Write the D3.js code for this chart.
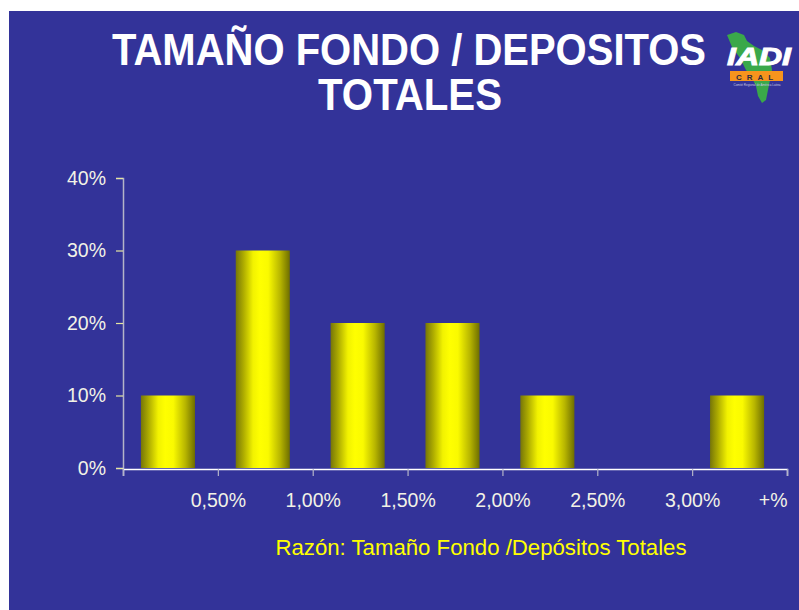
<!DOCTYPE html>
<html>
<head>
<meta charset="utf-8">
<script src="https://cdn.jsdelivr.net/npm/d3@7"></script>
<style>
  html, body { margin: 0; padding: 0; background: #ffffff; }
  svg { display: block; font-family: Arial, "Liberation Sans", sans-serif; }
</style>
</head>
<body>
<div id="chart"></div>
<script>
// Distribución de fondos según razón Tamaño Fondo / Depósitos Totales
const categories = ['0–0,50%', '0,50–1,00%', '1,00–1,50%', '1,50–2,00%', '2,00–2,50%', '2,50–3,00%', '>3,00%'];
const shares = [10, 30, 20, 20, 10, 0, 10];   // % de países
const boundaryLabels = ['', '0,50%', '1,00%', '1,50%', '2,00%', '2,50%', '3,00%', '+%'];
const yTicks = [0, 10, 20, 30, 40];

const W = 799, H = 610;
const bg = '#333399';
const plot = { left: 123, right: 787, top: 178, bottom: 468 };

const svg = d3.select('#chart').append('svg')
  .attr('width', W).attr('height', H);

// slide background (white strip on top/left like the scan)
svg.append('rect').attr('x', 9).attr('y', 11)
  .attr('width', W - 9).attr('height', H - 11).attr('fill', bg);

// bar gradient — olive edges, bright yellow core
const defs = svg.append('defs');
const grad = defs.append('linearGradient').attr('id', 'barGrad')
  .attr('x1', '0%').attr('x2', '100%').attr('y1', '0%').attr('y2', '0%');
[[0, '#767608'], [0.15, '#b0ae00'], [0.32, '#f2f200'], [0.45, '#ffff00'], [0.6, '#fafa00'], [0.82, '#b8b600'], [1, '#6e6e00']]
  .forEach(([o, c]) => grad.append('stop').attr('offset', o).attr('stop-color', c));

// Title
const title = svg.append('g').attr('fill', '#ffffff')
  .attr('font-family', '"Liberation Sans Narrow", "Arial Narrow", Arial, sans-serif')
  .attr('font-weight', 'bold').attr('font-size', 44).attr('text-anchor', 'middle');
title.append('text').attr('x', 409).attr('y', 65)
  .attr('textLength', 594).attr('lengthAdjust', 'spacingAndGlyphs')
  .text('TAMAÑO FONDO / DEPOSITOS');
title.append('text').attr('x', 410).attr('y', 110)
  .attr('textLength', 184).attr('lengthAdjust', 'spacingAndGlyphs')
  .text('TOTALES');

// Scales
const x = d3.scaleBand().domain(categories)
  .range([plot.left, plot.right]).paddingInner(0.43).paddingOuter(0.215);
const xEdge = d3.scaleLinear().domain([0, categories.length]).range([plot.left, plot.right]);
const y = d3.scaleLinear().domain([0, 40]).range([plot.bottom, plot.top]);

// Bars
svg.append('g').attr('transform', 'translate(-2.5,0)')
  .selectAll('rect').data(categories.map((c, i) => ({ c, v: shares[i] })).filter(d => d.v > 0))
  .join('rect')
  .attr('x', d => x(d.c))
  .attr('width', x.bandwidth())
  .attr('y', d => y(d.v))
  .attr('height', d => y(0) - y(d.v))
  .attr('fill', 'url(#barGrad)');

// Y axis
const yAxis = svg.append('g').attr('transform', `translate(${plot.left},0)`)
  .call(d3.axisLeft(y).tickValues(yTicks).tickSize(7).tickPadding(10).tickFormat(d => d + '%'));
yAxis.select('.domain').attr('stroke', '#b4b4c8').attr('stroke-width', 1.5);
yAxis.selectAll('.tick line').attr('stroke', '#e6e6a0').attr('stroke-width', 1.2);
yAxis.selectAll('.tick text').attr('fill', '#f2f2e6').attr('font-size', 19.5)
  .attr('font-family', 'Arial, "Liberation Sans", sans-serif');

// X axis (labels at category boundaries)
const xAxis = svg.append('g').attr('transform', `translate(0,${plot.bottom + 1})`)
  .call(d3.axisBottom(xEdge).tickValues(d3.range(0, boundaryLabels.length))
    .tickSize(7).tickPadding(17).tickFormat(i => boundaryLabels[i]));
xAxis.select('.domain').attr('stroke', '#ffffff').attr('stroke-width', 1.5);
xAxis.selectAll('.tick line').attr('stroke', '#b4b4c8').attr('stroke-width', 1.2);
xAxis.selectAll('.tick text').attr('fill', '#f2f2e6').attr('font-size', 19.5)
  .attr('font-family', 'Arial, "Liberation Sans", sans-serif')
  .attr('text-anchor', i => i === boundaryLabels.length - 1 ? 'end' : 'middle');

// Axis title
svg.append('text').attr('x', 481).attr('y', 555)
  .attr('text-anchor', 'middle').attr('fill', '#ffff00').attr('font-size', 22.2)
  .text('Razón: Tamaño Fondo /Depósitos Totales');

// IADI / CRAL logo
const logo = svg.append('g').attr('transform', 'translate(720,28)');
logo.append('path')
  .attr('d', 'M7,7 L16,4 L24,7 L27,13 L34,18 L42,22 L50,30 L52,42 L50,52 L48,62 L46,72 L42,75 L38,68 L36,58 L32,50 L26,42 L20,30 L12,19 Z')
  .attr('fill', '#3aa84a');
logo.append('text').attr('x', 39).attr('y', 37).attr('text-anchor', 'middle')
  .attr('fill', '#ffffff').attr('stroke', '#ffffff').attr('stroke-width', 0.9)
  .attr('font-weight', 'bold').attr('font-style', 'italic')
  .attr('font-size', 24).attr('textLength', 64).attr('lengthAdjust', 'spacingAndGlyphs')
  .text('IADI');
logo.append('rect').attr('x', 10).attr('y', 43).attr('width', 53).attr('height', 10)
  .attr('fill', '#f7941d');
logo.append('text').attr('x', 37).attr('y', 52).attr('text-anchor', 'middle')
  .attr('fill', '#2a2a40').attr('font-weight', 'bold').attr('font-size', 8)
  .attr('letter-spacing', 5).text('CRAL');
logo.append('text').attr('x', 37).attr('y', 57.5).attr('text-anchor', 'middle')
  .attr('fill', '#c8c8e0').attr('font-size', 3)
  .text('Comité Regional de América Latina');
</script>
</body>
</html>
